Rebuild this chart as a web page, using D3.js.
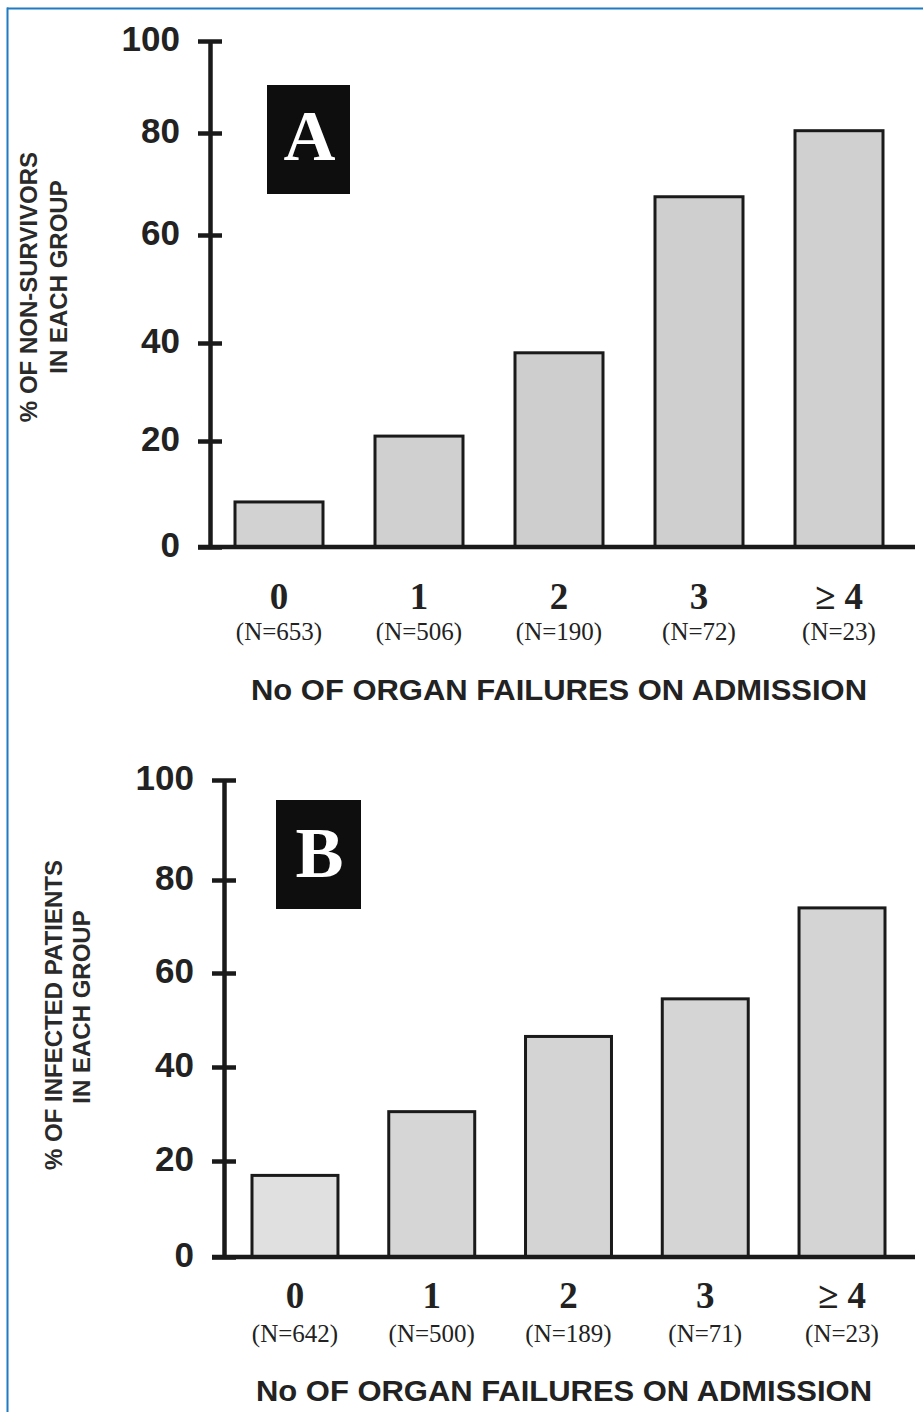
<!DOCTYPE html>
<html>
<head>
<meta charset="utf-8">
<script src="https://cdn.jsdelivr.net/npm/d3@7"></script>
<style>
  html, body { margin: 0; padding: 0; background: #ffffff; }
  svg { display: block; }
</style>
</head>
<body>
<svg id="chart" width="923" height="1412"></svg>
<script>
// ---------------- DATA ----------------
const categories = ["0", "1", "2", "3", "\u2265 4"];
const countsA = ["(N=653)", "(N=506)", "(N=190)", "(N=72)", "(N=23)"];
const countsB = ["(N=642)", "(N=500)", "(N=189)", "(N=71)", "(N=23)"];
const valuesA = [8.5, 21, 38, 67.5, 80.5];     // % of non-survivors
const valuesB = [17, 30.5, 46.5, 54.5, 74];    // % of infected patients
const yTicks = [0, 20, 40, 60, 80, 100];
const yTitleA = ["% OF NON-SURVIVORS", "IN EACH GROUP"];
const yTitleB = ["% OF INFECTED PATIENTS", "IN EACH GROUP"];
const xTitle = "No OF ORGAN FAILURES ON ADMISSION";
const panelLetters = ["A", "B"];

// ---------------- LAYOUT / STYLE ----------------
const INK = "#1a1a1a";
const TEXT = "#222";
// pixel positions of the tick marks in the (slightly distorted) scanned figure
const panels = [
  {
    values: valuesA, counts: countsA, yTitle: yTitleA, letter: panelLetters[0],
    axisX: 210, tickPx: [547, 441, 343, 235, 133, 41],
    bandRange: [209, 909], xLineRange: [198, 915],
    box: { x: 267, y: 85, w: 83, h: 109 }, letterBaseline: 160,
    yTitleX: [37, 67], yTitleCY: [287, 277],
    catBaseline: 609, countBaseline: 640, titleBaseline: 700, titleCX: 559,
    fills: ["#d2d2d2", "#d0d0d0", "#cecece", "#cfcfcf", "#d0d0d0"]
  },
  {
    values: valuesB, counts: countsB, yTitle: yTitleB, letter: panelLetters[1],
    axisX: 224, tickPx: [1257, 1161, 1067, 973, 880, 780],
    bandRange: [226.6, 910.4], xLineRange: [212, 915],
    box: { x: 276, y: 800, w: 85, h: 109 }, letterBaseline: 877,
    yTitleX: [62, 90], yTitleCY: [1015, 1007],
    catBaseline: 1308, countBaseline: 1342, titleBaseline: 1401, titleCX: 564,
    fills: ["#e0e0e0", "#d6d6d6", "#d4d4d4", "#d5d5d5", "#d4d4d4"]
  }
];

const svg = d3.select("#chart");

// Blue frame of the page
svg.append("line").attr("x1", 7).attr("x2", 923).attr("y1", 8.5).attr("y2", 8.5)
  .attr("stroke", "#1f7bc2").attr("stroke-width", 2.2);
svg.append("line").attr("x1", 7.5).attr("x2", 7.5).attr("y1", 7.5).attr("y2", 1412)
  .attr("stroke", "#1f7bc2").attr("stroke-width", 2);

panels.forEach(p => {
  const g = svg.append("g");

  const x = d3.scaleBand()
    .domain(categories)
    .range(p.bandRange)
    .paddingInner(0.3714)
    .paddingOuter(0.1857);

  // piecewise-linear scale following the scanned tick positions
  const y = d3.scaleLinear().domain(yTicks).range(p.tickPx);

  // Bars
  g.selectAll("rect.bar")
    .data(p.values)
    .join("rect")
    .attr("class", "bar")
    .attr("x", (d, i) => x(categories[i]))
    .attr("width", x.bandwidth())
    .attr("y", d => y(d))
    .attr("height", d => y(0) - y(d))
    .attr("fill", (d, i) => p.fills[i])
    .attr("stroke", INK)
    .attr("stroke-width", 3);

  // Baseline (x axis line)
  g.append("line")
    .attr("x1", p.xLineRange[0]).attr("x2", p.xLineRange[1])
    .attr("y1", y(0)).attr("y2", y(0))
    .attr("stroke", INK).attr("stroke-width", 4.5);

  // Y axis
  const yAxis = d3.axisLeft(y)
    .tickValues(yTicks)
    .tickFormat(d3.format("d"))
    .tickSizeInner(12)
    .tickSizeOuter(0)
    .tickPadding(18);

  const ya = g.append("g")
    .attr("transform", `translate(${p.axisX},0)`)
    .call(yAxis);
  ya.select(".domain").attr("stroke", INK).attr("stroke-width", 4.5);
  ya.selectAll(".tick line").attr("x1", 12).attr("stroke", INK).attr("stroke-width", 4.5);
  ya.selectAll(".tick text")
    .attr("fill", TEXT)
    .attr("font-family", "'Liberation Sans', Arial, sans-serif")
    .attr("font-weight", "bold")
    .attr("font-size", 35)
    .attr("dy", "0.27em");
  ya.attr("font-family", null).attr("font-size", null);

  // Category labels
  g.selectAll("text.cat")
    .data(categories)
    .join("text")
    .attr("class", "cat")
    .attr("x", d => x(d) + x.bandwidth() / 2)
    .attr("y", p.catBaseline)
    .attr("text-anchor", "middle")
    .attr("font-family", "'Liberation Serif', 'Times New Roman', serif")
    .attr("font-weight", "bold")
    .attr("font-size", 37)
    .attr("fill", TEXT)
    .text(d => d);

  g.selectAll("text.cnt")
    .data(p.counts)
    .join("text")
    .attr("class", "cnt")
    .attr("x", (d, i) => x(categories[i]) + x.bandwidth() / 2)
    .attr("y", p.countBaseline)
    .attr("text-anchor", "middle")
    .attr("font-family", "'Liberation Serif', 'Times New Roman', serif")
    .attr("font-size", 25)
    .attr("fill", TEXT)
    .text(d => d);

  // X axis title
  g.append("text")
    .attr("x", p.titleCX)
    .attr("y", p.titleBaseline)
    .attr("text-anchor", "middle")
    .attr("font-family", "'Liberation Sans', Arial, sans-serif")
    .attr("font-weight", "bold")
    .attr("font-size", 29)
    .attr("textLength", 616)
    .attr("lengthAdjust", "spacingAndGlyphs")
    .attr("fill", TEXT)
    .text(xTitle);

  // Y axis title (two rotated lines)
  p.yTitle.forEach((line, i) => {
    g.append("text")
      .attr("transform", `translate(${p.yTitleX[i]},${p.yTitleCY[i]}) rotate(-90)`)
      .attr("text-anchor", "middle")
      .attr("font-family", "'Liberation Sans', Arial, sans-serif")
      .attr("font-weight", "bold")
      .attr("font-size", 24)
      .attr("fill", "#2a2a2a")
      .text(line);
  });

  // Panel letter box
  g.append("rect")
    .attr("x", p.box.x).attr("y", p.box.y)
    .attr("width", p.box.w).attr("height", p.box.h)
    .attr("fill", "#0e0e0e");
  g.append("text")
    .attr("x", p.box.x + p.box.w / 2 + 1)
    .attr("y", p.letterBaseline)
    .attr("text-anchor", "middle")
    .attr("font-family", "'Liberation Serif', 'Times New Roman', serif")
    .attr("font-weight", "bold")
    .attr("font-size", 72)
    .attr("fill", "#ffffff")
    .text(p.letter);
});
</script>
</body>
</html>
